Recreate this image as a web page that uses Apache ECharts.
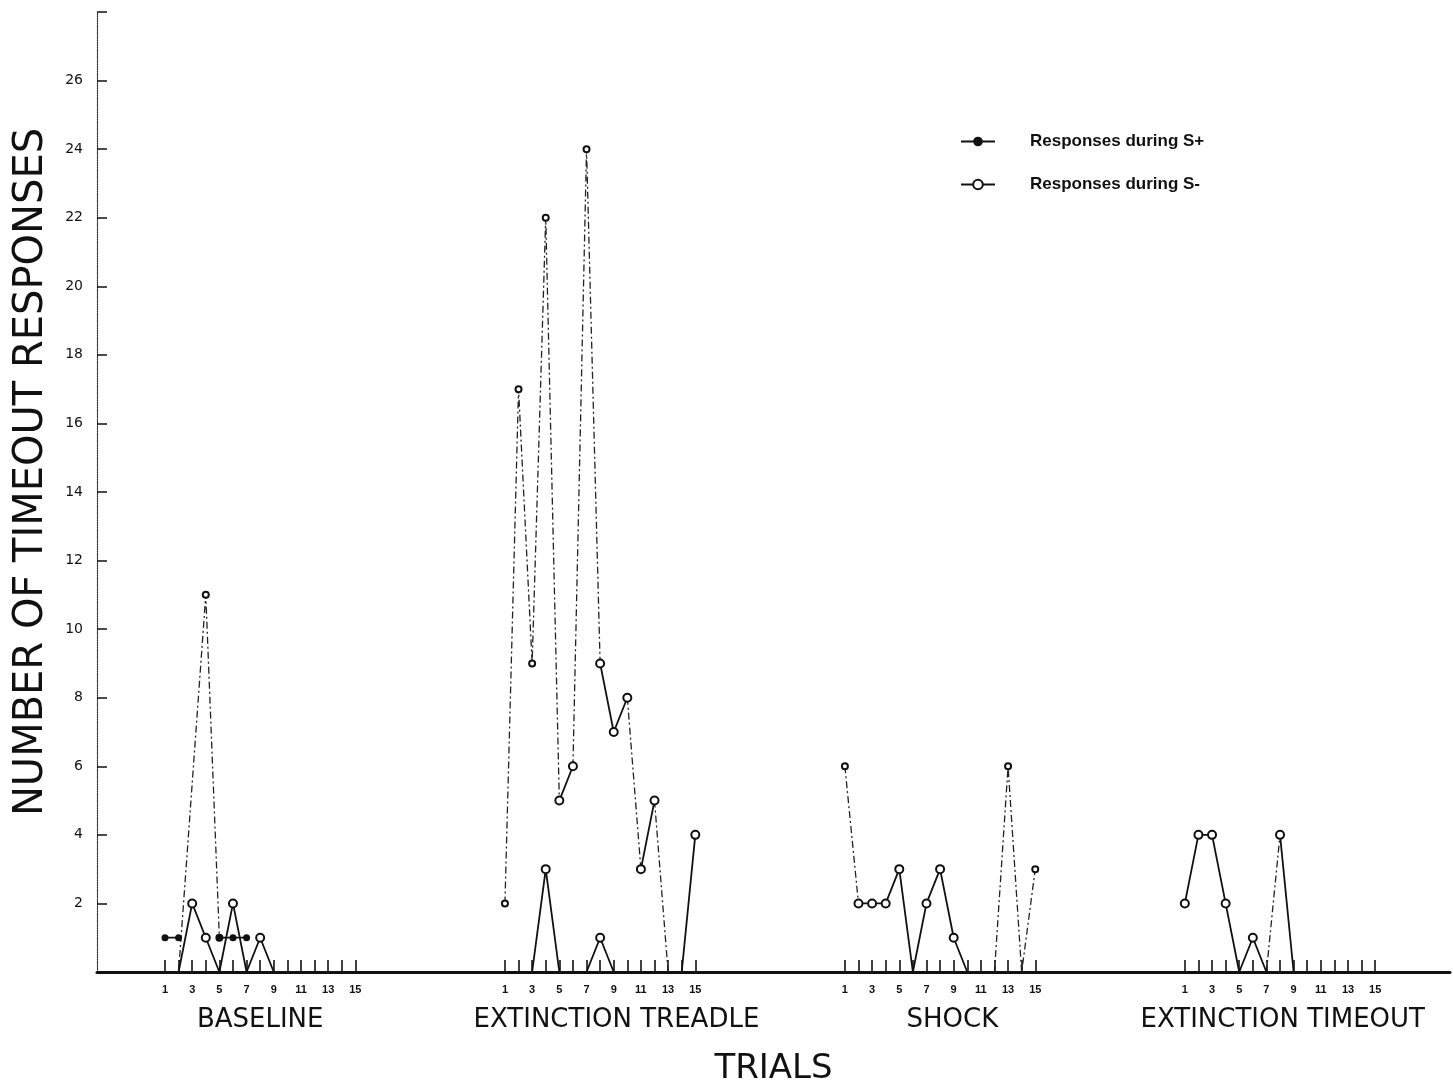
<!DOCTYPE html>
<html>
<head>
<meta charset="utf-8">
<script src="https://cdn.jsdelivr.net/npm/echarts@6/dist/echarts.min.js"></script>
<style>
  html, body { margin: 0; padding: 0; background: #fff; }
  #chart { width: 1453px; height: 1085px; }
</style>
</head>
<body>
<div id="chart"></div>
<script>
// ---- data ----
const groupNames = ['BASELINE', 'EXTINCTION TREADLE', 'SHOCK', 'EXTINCTION TIMEOUT'];
const trialNumbers = [1,2,3,4,5,6,7,8,9,10,11,12,13,14,15];
const trialLabels = [1,3,5,7,9,11,13,15];
const groupSpan = 25; // trial units from one group's first trial to the next group's

// Responses during S+ (dash-dot traces), [trial, count]; null = gap
const baselinePlus = [[2,0],[4,11],[5,1]];
const treadlePlus  = [[1,2],[2,17],[3,9],[4,22],[5,5], null, [6,6],[7,24],[8,9], null, [10,8],[11,3], null, [12,5],[13,0]];
const shockPlus    = [[1,6],[2,2], null, [12,0],[13,6],[14,0],[15,3]];
const timeoutPlus  = [[7,0],[8,4]];

// S+ points drawn with filled dots (baseline)
const baselineFilled = [[1,1],[2,1], null, [5,1],[6,1],[7,1]];

// Responses during S- (solid traces with open circles)
const baselineMinus = [[2,0],[3,2],[4,1],[5,0],[6,2],[7,0],[8,1],[9,0]];
const treadleMinus  = [[3,0],[4,3],[5,0], null, [5,5],[6,6], null, [7,0],[8,1],[9,0], null, [8,9],[9,7],[10,8], null, [11,3],[12,5], null, [14,0],[15,4]];
const shockMinus    = [[2,2],[3,2],[4,2],[5,3],[6,0],[7,2],[8,3],[9,1],[10,0]];
const timeoutMinus  = [[1,2],[2,4],[3,4],[4,2],[5,0],[6,1],[7,0], null, [8,4],[9,0]];

const yMax = 28;

// ---- build ----
function build(groups) {
  const out = [];
  groups.forEach(function (arr, g) {
    if (!arr) return;
    arr.forEach(function (p) {
      if (p === null) out.push([null, null]);
      else out.push([g * groupSpan + p[0], p[1]]);
    });
    out.push([null, null]);
  });
  return out;
}
const plusData = build([baselinePlus, treadlePlus, shockPlus, timeoutPlus]);
const filledData = build([baselineFilled, null, null, null]);
const minusData = build([baselineMinus, treadleMinus, shockMinus, timeoutMinus]);

const tickPositions = [];
const labelPositions = [];
groupNames.forEach(function (_, g) {
  trialNumbers.forEach(function (t) { tickPositions.push(g * groupSpan + t); });
  trialLabels.forEach(function (t) { labelPositions.push(g * groupSpan + t); });
});
const groupCenterShift = [0, 1.2, 0.9, 0.2];
const groupLabelPositions = groupNames.map(function (_, g) { return g * groupSpan + 8 + groupCenterShift[g]; });

const INK = '#111';

const chart = echarts.init(document.getElementById('chart'), null, { renderer: 'canvas' });
chart.setOption({
  animation: false,
  backgroundColor: '#ffffff',
  grid: { left: 97, right: 3, top: 12, bottom: 113, containLabel: false, outerBoundsMode: 'none' },
  legend: {
    data: ['Responses during S+', 'Responses during S-'],
    orient: 'vertical',
    left: 955,
    top: 128,
    itemWidth: 34,
    itemHeight: 12,
    itemGap: 26,
    textStyle: { fontFamily: 'Liberation Sans', fontSize: 17, fontWeight: 'bold', color: INK, padding: [0, 0, 0, 30] }
  },
  xAxis: [{
    type: 'value',
    min: -4, max: 95.5,
    name: 'TRIALS',
    nameLocation: 'middle',
    nameGap: 80,
    nameTextStyle: { fontFamily: 'DejaVu Sans', fontSize: 34, color: INK },
    axisLine: { onZero: false, lineStyle: { color: INK, width: 3 } },
    axisTick: { inside: true, length: 12, lineStyle: { color: INK, width: 1.6 }, customValues: tickPositions },
    axisLabel: {
      customValues: labelPositions,
      formatter: function (v) { return String(Math.round(v - Math.floor((v - 1) / groupSpan) * groupSpan)); },
      fontFamily: 'Liberation Sans', fontSize: 11, fontWeight: 'bold', color: INK, margin: 12
    },
    splitLine: { show: false }
  }, {
    type: 'value',
    min: -4, max: 95.5,
    position: 'bottom',
    offset: 0,
    axisLine: { show: false, onZero: false },
    axisTick: { show: false },
    splitLine: { show: false },
    axisLabel: {
      customValues: groupLabelPositions,
      formatter: function (v) { return groupNames[Math.floor((v - 1) / groupSpan)]; },
      fontFamily: 'DejaVu Sans', fontSize: 26, color: INK, margin: 35
    }
  }],
  yAxis: {
    type: 'value',
    min: 0, max: yMax, interval: 2,
    name: 'NUMBER OF TIMEOUT RESPONSES',
    nameLocation: 'middle',
    nameGap: 45,
    nameTextStyle: { fontFamily: 'DejaVu Sans', fontSize: 40, color: INK, padding: [0, 0, 0, 40] },
    axisLine: { onZero: false, lineStyle: { color: '#333', width: 1.2, type: 'dotted' } },
    axisTick: { inside: true, length: 10, lineStyle: { color: INK, width: 1.5 } },
    axisLabel: {
      formatter: function (v) { return (v === 0 || v === yMax) ? '' : String(v); },
      fontFamily: 'DejaVu Sans', fontSize: 14, color: INK, margin: 14
    },
    splitLine: { show: false }
  },
  series: [{
    name: 'Responses during S+',
    type: 'line',
    data: filledData,
    connectNulls: false,
    symbol: 'circle',
    symbolSize: function (v) { return v && v[1] > 0 ? 7 : 0; },
    itemStyle: { color: INK },
    lineStyle: { color: INK, width: 1.8 },
    z: 3
  }, {
    name: 'Responses during S+',
    type: 'line',
    data: plusData,
    connectNulls: false,
    symbol: 'emptyCircle',
    symbolSize: function (v) { return v && v[1] > 0 ? 6 : 0; },
    itemStyle: { color: INK, borderWidth: 1.4 },
    lineStyle: { color: '#222', width: 1.3, type: [7, 3, 2, 3] },
    z: 2
  }, {
    name: 'Responses during S-',
    type: 'line',
    data: minusData,
    connectNulls: false,
    symbol: 'emptyCircle',
    symbolSize: function (v) { return v && v[1] > 0 ? 8 : 0; },
    itemStyle: { color: INK, borderWidth: 1.6 },
    lineStyle: { color: INK, width: 1.8 },
    z: 4
  }]
});
</script>
</body>
</html>
